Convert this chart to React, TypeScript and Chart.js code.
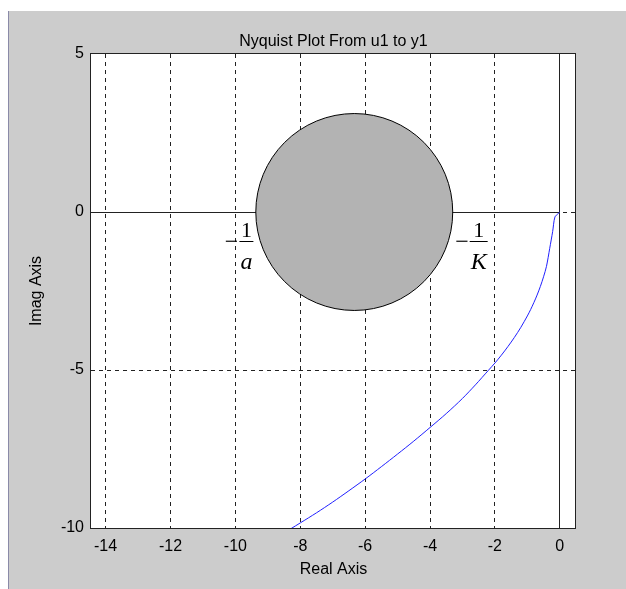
import { useEffect, useRef } from 'react';
import { Chart, registerables } from 'chart.js';

Chart.register(...registerables);

// Nyquist curve
const realValues = [0, -0.05, -0.15, -0.22, -0.31, -0.41, -0.5, -0.6, -0.7, -0.8, -0.9, -1.0, -1.2, -1.4, -1.6, -1.8, -2.0, -2.2, -2.6, -3.0, -3.5, -4.0, -4.5, -5.0, -5.5, -6.0, -6.5, -7.0, -7.5, -8.0, -8.3];
const imagValues = [0, -0.05, -0.16, -0.62, -1.15, -1.72, -2.05, -2.36, -2.63, -2.87, -3.09, -3.29, -3.65, -3.97, -4.26, -4.53, -4.78, -5.01, -5.47, -5.9, -6.38, -6.82, -7.25, -7.66, -8.06, -8.45, -8.82, -9.18, -9.52, -9.84, -10.03];

// Shaded disc between -1/a and -1/K
const circleLeftReal = -9.37;
const circleRightReal = -3.3;

// Axis limits and ticks
const xLimits = [-14.45, 0.5];
const yLimits = [-10, 5];
const xStep = 2;
const yStep = 5;

// Fraction annotations (-1/a, -1/K), anchored in data units at the fraction bar
const fractionX = [-9.66, -2.5];
const fractionY = [-0.93, -0.93];
const fractionNum = ['1', '1'];
const fractionDen = ['a', 'K'];

const titleText = 'Nyquist Plot From u1 to y1';
const xTitle = 'Real Axis';
const yTitle = 'Imag Axis';

const SANS = "'Liberation Sans', Arial, sans-serif";
const SERIF = "'Liberation Serif', 'Times New Roman', serif";

const align = (p: number) => Math.round(p - 0.5) + 0.5;

const decorPlugin = {
  id: 'nyquistDecor',
  beforeDraw(chart: any) {
    const { ctx, width, height, chartArea: a } = chart;
    ctx.save();
    ctx.fillStyle = '#ffffff';
    ctx.fillRect(0, 0, width, height);
    ctx.fillStyle = '#cccccc';
    ctx.fillRect(8, 11, width - 8, height - 11);
    ctx.strokeStyle = '#8a8aa8';
    ctx.lineWidth = 1;
    ctx.beginPath();
    ctx.moveTo(8.5, 11);
    ctx.lineTo(8.5, height);
    ctx.stroke();
    ctx.fillStyle = '#ffffff';
    ctx.fillRect(a.left, a.top, a.right - a.left, a.bottom - a.top);
    ctx.restore();
  },
  beforeDatasetsDraw(chart: any) {
    const { ctx, chartArea: a } = chart;
    const xs = chart.scales.x;
    const ys = chart.scales.y;
    ctx.save();
    // real and imaginary axis lines
    const x0 = align(xs.getPixelForValue(0));
    const y0 = align(ys.getPixelForValue(0));
    ctx.strokeStyle = '#222222';
    ctx.lineWidth = 1;
    ctx.setLineDash([]);
    ctx.beginPath();
    ctx.moveTo(a.left, y0);
    ctx.lineTo(x0, y0);
    ctx.moveTo(x0, a.top);
    ctx.lineTo(x0, a.bottom);
    ctx.stroke();

    // disc
    const pl = xs.getPixelForValue(circleLeftReal);
    const pr = xs.getPixelForValue(circleRightReal);
    const cx = (pl + pr) / 2;
    const r = (pr - pl) / 2;
    ctx.beginPath();
    ctx.arc(cx, ys.getPixelForValue(0), r, 0, Math.PI * 2);
    ctx.fillStyle = '#b3b3b3';
    ctx.fill();
    ctx.strokeStyle = '#000000';
    ctx.stroke();

    // fraction labels
    ctx.fillStyle = '#000000';
    for (let i = 0; i < fractionX.length; i++) {
      const px = xs.getPixelForValue(fractionX[i]);
      const py = Math.round(ys.getPixelForValue(fractionY[i])) + 0.5;
      ctx.font = `22px ${SERIF}`;
      const wNum = ctx.measureText(fractionNum[i]).width;
      ctx.font = `italic 24px ${SERIF}`;
      const wDen = ctx.measureText(fractionDen[i]).width;
      const barW = Math.max(wNum, wDen) + 2;
      ctx.textAlign = 'center';
      ctx.textBaseline = 'alphabetic';
      ctx.font = `22px ${SERIF}`;
      ctx.fillText(fractionNum[i], px, py - 5);
      ctx.font = `italic 24px ${SERIF}`;
      ctx.fillText(fractionDen[i], px, py + 27);
      ctx.beginPath();
      ctx.moveTo(px - barW / 2, py);
      ctx.lineTo(px + barW / 2, py);
      ctx.lineWidth = 1;
      ctx.strokeStyle = '#000000';
      ctx.stroke();
      ctx.font = `24px ${SERIF}`;
      ctx.textAlign = 'right';
      ctx.fillText('\u2212', px - barW / 2 - 1, py + 7);
    }
    ctx.restore();
  },
  afterDatasetsDraw(chart: any) {
    const { ctx, chartArea: a } = chart;
    ctx.save();
    ctx.strokeStyle = '#222222';
    ctx.lineWidth = 1;
    ctx.strokeRect(a.left - 0.5, a.top - 0.5, a.right - a.left, a.bottom - a.top + 1);
    ctx.restore();
  },
};

const gridColor = (edgeValues: number[]) => (c: any) =>
  c.tick && edgeValues.includes(c.tick.value) ? 'rgba(0,0,0,0)' : '#222222';

export default function App() {
  const ref = useRef<HTMLCanvasElement>(null);
  useEffect(() => {
    if (!ref.current) return;
    const points = realValues.map((x, i) => ({ x, y: imagValues[i] }));
    const chart = new Chart(ref.current, {
      type: 'scatter',
      data: {
        datasets: [
          {
            data: points,
            showLine: true,
            borderColor: '#2020ff',
            borderWidth: 1,
            pointRadius: 0,
            tension: 0.3,
            fill: false,
          },
        ],
      },
      options: {
        responsive: false,
        animation: false,
        layout: { padding: { left: 0, right: 50, top: 0, bottom: 0 } },
        plugins: {
          legend: { display: false },
          tooltip: { enabled: false },
          title: {
            display: true,
            fullSize: false,
            text: titleText,
            color: '#000',
            font: { family: SANS, size: 16, weight: 'normal' },
            padding: { top: 32.4, bottom: 2.4 },
          },
        },
        scales: {
          x: {
            type: 'linear',
            min: xLimits[0],
            max: xLimits[1],
            afterFit: (s: any) => {
              s.height = 61;
            },
            ticks: {
              stepSize: xStep,
              includeBounds: false,
              color: '#000',
              padding: 9,
              font: { family: SANS, size: 16 },
              callback: (v: any) => String(v),
            },
            grid: { color: gridColor([0]), lineWidth: 1, drawTicks: false },
            border: { display: false, dash: [4, 4] },
            title: {
              display: true,
              text: xTitle,
              color: '#000',
              font: { family: SANS, size: 16 },
              padding: { top: 0, bottom: 10 },
            },
          },
          y: {
            type: 'linear',
            min: yLimits[0],
            max: yLimits[1],
            afterFit: (s: any) => {
              s.width = 91;
            },
            ticks: {
              stepSize: yStep,
              color: '#000',
              padding: 7,
              font: { family: SANS, size: 16 },
              callback: (v: any) => String(v),
            },
            grid: { color: gridColor([5, -10]), lineWidth: 1, drawTicks: false },
            border: { display: false, dash: [4, 4] },
            title: {
              display: true,
              text: yTitle,
              color: '#000',
              font: { family: SANS, size: 16 },
              padding: { top: 27, bottom: 0 },
            },
          },
        },
      },
      plugins: [decorPlugin],
    });
    return () => chart.destroy();
  }, []);
  return (
    <div style={{ position: 'fixed', left: 0, top: 0, width: 626, height: 589, background: '#fff' }}>
      <canvas ref={ref} width={626} height={589} style={{ display: 'block' }} />
    </div>
  );
}
